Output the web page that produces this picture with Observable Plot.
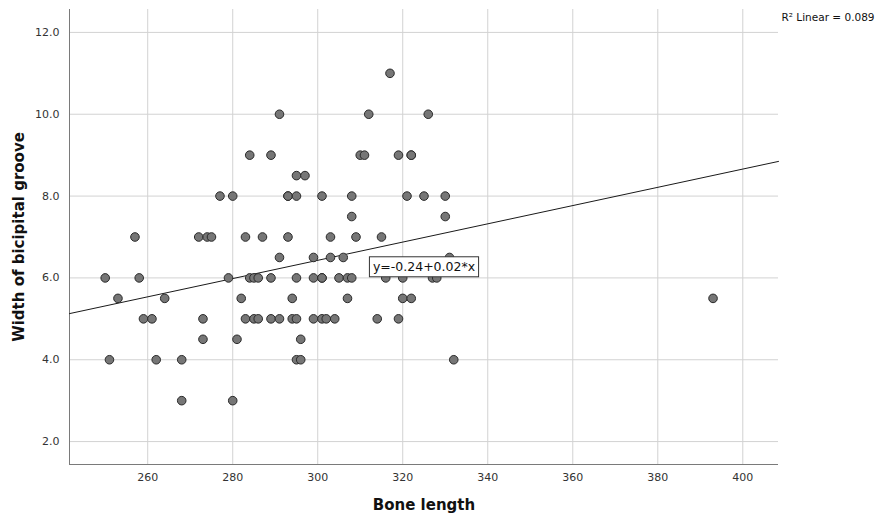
<!DOCTYPE html>
<html>
<head>
<meta charset="utf-8">
<script src="https://cdn.jsdelivr.net/npm/d3@7"></script>
<script src="https://cdn.jsdelivr.net/npm/@observablehq/plot@0.6"></script>
<style>
  html, body { margin: 0; padding: 0; background: white; }
  #chart svg { display: block; }
</style>
</head>
<body>
<div id="chart"></div>
<script>
// Scatter data (bone length, width of bicipital groove)
const boneLength = [
  317,
  291, 312, 326,
  284, 289, 310, 311, 319, 322, 322,
  295, 297,
  277, 280, 293, 293, 295, 301, 308, 321, 325, 330,
  308, 330,
  257, 272, 274, 275, 283, 287, 293, 303, 309, 315,
  291, 299, 303, 306, 331,
  250, 258, 279, 284, 285, 286, 289, 295, 299, 301, 301, 305, 307, 308, 316, 320, 327, 328,
  253, 264, 282, 294, 307, 320, 322, 393,
  259, 261, 273, 283, 285, 286, 289, 291, 294, 295, 299, 301, 302, 304, 314, 319,
  273, 281, 296,
  251, 262, 268, 295, 296, 332,
  268, 280
];
const grooveWidth = [
  11,
  10, 10, 10,
  9, 9, 9, 9, 9, 9, 9,
  8.5, 8.5,
  8, 8, 8, 8, 8, 8, 8, 8, 8, 8,
  7.5, 7.5,
  7, 7, 7, 7, 7, 7, 7, 7, 7, 7,
  6.5, 6.5, 6.5, 6.5, 6.5,
  6, 6, 6, 6, 6, 6, 6, 6, 6, 6, 6, 6, 6, 6, 6, 6, 6, 6,
  5.5, 5.5, 5.5, 5.5, 5.5, 5.5, 5.5, 5.5,
  5, 5, 5, 5, 5, 5, 5, 5, 5, 5, 5, 5, 5, 5, 5, 5,
  4.5, 4.5, 4.5,
  4, 4, 4, 4, 4, 4,
  3, 3
];

// Axis ranges and ticks
const xDomain = [241.6, 408.4];
const yDomain = [1.44, 12.56];
const xTicks = [260, 280, 300, 320, 340, 360, 380, 400];
const yTicks = [2, 4, 6, 8, 10, 12];

// Fit line (as drawn in the picture) and labels
const fitIntercept = -0.26;
const fitSlope = 0.0223;
const equationLabel = "y=-0.24+0.02*x";
const equationAt = [325, 6.26];
const r2Label = "R\u00B2 Linear = 0.089";
const xTitle = "Bone length";
const yTitle = "Width of bicipital groove";

const points = boneLength.map((b, i) => ({x: b, y: grooveWidth[i]}));
const fitLine = xDomain.map(x => ({x, y: fitIntercept + fitSlope * x}));

const chart = Plot.plot({
  width: 880,
  height: 517,
  marginLeft: 69,
  marginRight: 102,
  marginTop: 9,
  marginBottom: 53,
  style: {fontFamily: "DejaVu Sans, sans-serif", fontSize: "11px", color: "#333", background: "white", overflow: "visible"},
  x: {domain: xDomain},
  y: {domain: yDomain},
  marks: [
    Plot.gridX(xTicks, {stroke: "#d2d2d2", strokeOpacity: 1}),
    Plot.gridY(yTicks, {stroke: "#d2d2d2", strokeOpacity: 1}),
    Plot.axisX(xTicks, {tickSize: 0, tickPadding: 9, label: null, fill: "#333"}),
    Plot.axisY(yTicks, {tickSize: 0, tickPadding: 10, tickFormat: d3.format(".1f"), label: null, fill: "#333"}),
    Plot.ruleX([xDomain[0]], {stroke: "#7a7a7a"}),
    Plot.ruleY([yDomain[0]], {stroke: "#7a7a7a"}),
    Plot.line(fitLine, {x: "x", y: "y", stroke: "#1a1a1a", strokeWidth: 1}),
    Plot.dot(points, {x: "x", y: "y", r: 4.3, fill: "#767676", stroke: "#2a2a2a", strokeWidth: 1}),
    Plot.text([equationLabel], {x: () => equationAt[0], y: () => equationAt[1], text: d => d, fontSize: 12.5, fill: "#111", className: "eqlabel"}),
    Plot.text([r2Label], {frameAnchor: "top-right", text: d => d, textAnchor: "start", lineAnchor: "middle", dx: 3, dy: 8, fontSize: 10.5, fill: "#111"}),
    Plot.text([xTitle], {frameAnchor: "bottom", text: d => d, textAnchor: "middle", lineAnchor: "middle", dy: 41, fontSize: 15, fontWeight: "bold", fill: "#111"}),
    Plot.text([yTitle], {frameAnchor: "left", text: d => d, textAnchor: "middle", lineAnchor: "middle", dx: -50, rotate: -90, fontSize: 15, fontWeight: "bold", fill: "#111"})
  ]
});

document.getElementById("chart").appendChild(chart);

// Box around the equation label
const eqText = chart.querySelector("g.eqlabel text");
if (eqText) {
  const bb = eqText.getBBox();
  const rect = document.createElementNS("http://www.w3.org/2000/svg", "rect");
  rect.setAttribute("x", bb.x - 3.5);
  rect.setAttribute("y", bb.y - 2.5);
  rect.setAttribute("width", bb.width + 7);
  rect.setAttribute("height", bb.height + 5);
  rect.setAttribute("fill", "white");
  rect.setAttribute("stroke", "#333");
  rect.setAttribute("stroke-width", "1");
  const tr = eqText.getAttribute("transform");
  if (tr) rect.setAttribute("transform", tr);
  eqText.parentNode.insertBefore(rect, eqText);
}
</script>
</body>
</html>
